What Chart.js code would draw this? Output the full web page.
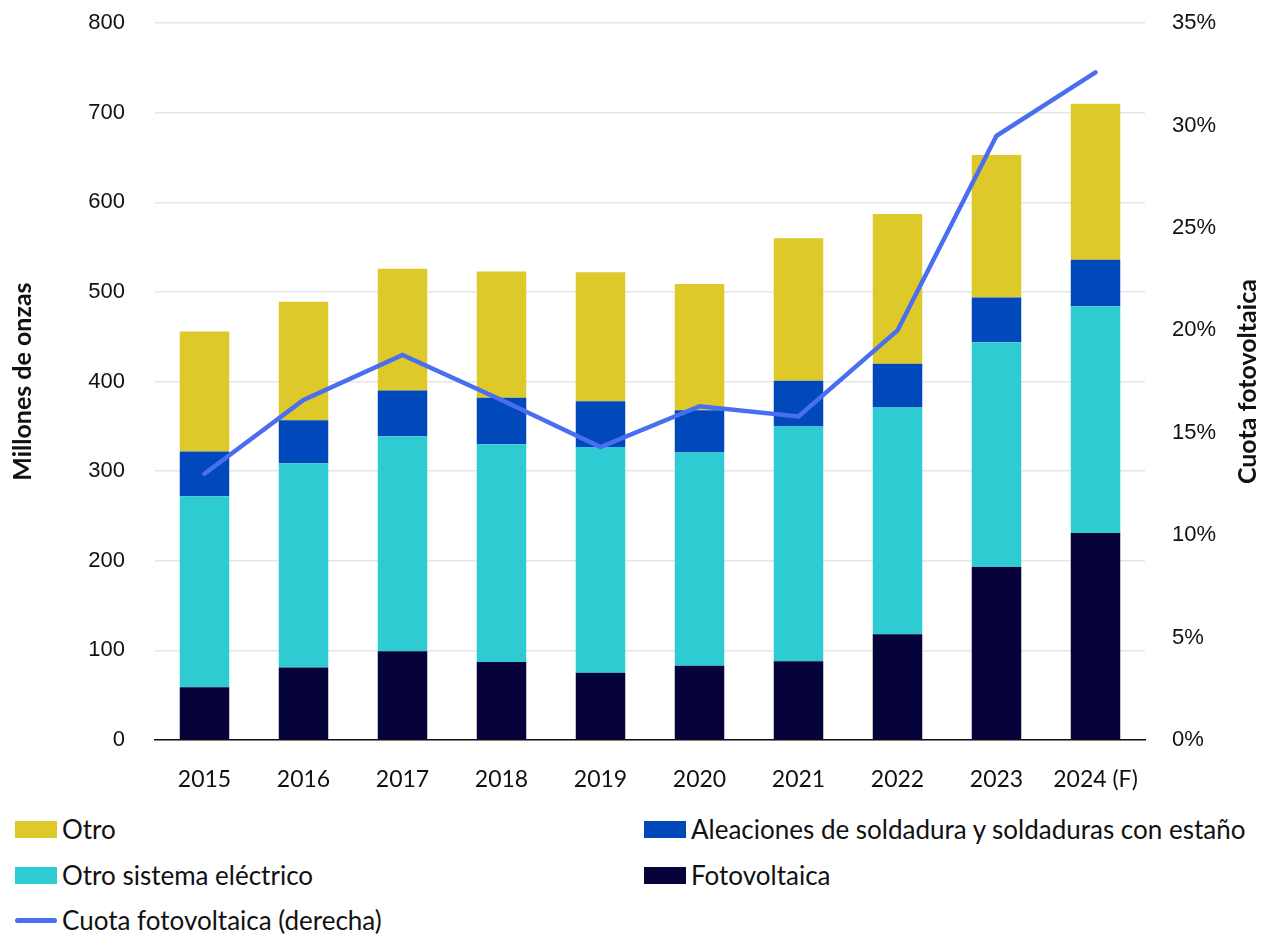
<!DOCTYPE html>
<html>
<head>
<meta charset="utf-8">
<script src="https://cdn.jsdelivr.net/npm/chart.js@4.4.1/dist/chart.umd.min.js"></script>
<style>
  html, body { margin: 0; padding: 0; background: #fff; }
  #wrap { position: relative; width: 1266px; height: 935px; font-family: Lato, sans-serif; overflow: hidden; }
  #box { position: absolute; left: 0; top: -20px; width: 1266px; height: 820px; }
  #legend { position: absolute; left: 0; top: 814px; width: 1266px; }
  .item { position: absolute; display: flex; align-items: center; font-size: 26px; color: #111; white-space: nowrap; height: 30px; }
  .swatch { width: 42px; height: 17px; margin-right: 5px; }
  .swatch.line { height: 5px; border-radius: 3px; }
</style>
</head>
<body>
<div id="wrap">
  <div id="box"><canvas id="chart"></canvas></div>
  <div id="legend"></div>
</div>
<script>
const years = ['2015', '2016', '2017', '2018', '2019', '2020', '2021', '2022', '2023', '2024 (F)'];

// millones de onzas
const fotovoltaica = [59, 81, 99, 87, 75, 83, 88, 118, 193, 231];
const otroElectrico = [213, 228, 240, 243, 252, 238, 262, 253, 251, 253];
const soldadura = [50, 48, 51, 52, 51, 47, 51, 49, 50, 52];
const otro = [134, 132, 136, 141, 144, 141, 159, 167, 159, 174];

// % del total
const cuotaFv = [13.0, 16.6, 18.8, 16.6, 14.3, 16.3, 15.8, 20.0, 29.5, 32.6];

const yTicks = [0, 100, 200, 300, 400, 500, 600, 700, 800];

const colors = {
    otro: '#DEC92B',
    soldadura: '#0148BA',
    electrico: '#2ECCD2',
    foto: '#06033A',
    linea: '#4A6EF0'
};

Chart.defaults.font.family = 'Lato, sans-serif';
Chart.defaults.font.size = 22;
Chart.defaults.color = '#111';

const tickFont = { family: "'Liberation Sans', Arial, sans-serif", size: 22 };
const titleFont = { family: 'Lato, sans-serif', weight: 'bold', size: 25 };

// titulo del eje derecho, girado como el izquierdo
const rightTitle = {
    id: 'rightTitle',
    afterDraw(chart) {
        const { ctx, chartArea } = chart;
        ctx.save();
        ctx.translate(1248, (chartArea.top + chartArea.bottom) / 2);
        ctx.rotate(-Math.PI / 2);
        ctx.font = `bold ${titleFont.size}px ${titleFont.family}`;
        ctx.fillStyle = '#111';
        ctx.textAlign = 'center';
        ctx.textBaseline = 'middle';
        ctx.fillText('Cuota fotovoltaica', 0, 0);
        ctx.restore();
    }
};

const ctx = document.getElementById('chart');

const chart = new Chart(ctx, {
    data: {
        labels: years,
        datasets: [
            { type: 'line', label: 'Cuota fotovoltaica (derecha)', data: cuotaFv, yAxisID: 'y1',
              borderColor: colors.linea, backgroundColor: colors.linea, borderWidth: 4.5,
              borderCapStyle: 'round', pointRadius: 0, tension: 0, order: 0 },
            { type: 'bar', label: 'Fotovoltaica', data: fotovoltaica, backgroundColor: colors.foto, order: 1 },
            { type: 'bar', label: 'Otro sistema eléctrico', data: otroElectrico, backgroundColor: colors.electrico, order: 1 },
            { type: 'bar', label: 'Aleaciones de soldadura y soldaduras con estaño', data: soldadura, backgroundColor: colors.soldadura, order: 1 },
            { type: 'bar', label: 'Otro', data: otro, backgroundColor: colors.otro, order: 1 }
        ]
    },
    options: {
        responsive: true,
        maintainAspectRatio: false,
        animation: false,
        layout: { padding: { top: 3, left: 0, right: 0, bottom: 0 } },
        datasets: { bar: { barPercentage: 0.5, categoryPercentage: 1.0 } },
        plugins: { legend: { display: false }, tooltip: { enabled: false } },
        scales: {
            x: {
                stacked: true,
                grid: { display: false },
                border: { color: '#111', width: 1.5 },
                ticks: { padding: 18, font: { size: 23 } },
                afterFit: s => { s.height = 60; }
            },
            y: {
                stacked: true,
                min: 0, max: 800,
                afterBuildTicks: s => { s.ticks = yTicks.map(v => ({ value: v })); },
                grid: { color: '#e6e6e6', lineWidth: 1.5, drawTicks: false },
                border: { display: false },
                ticks: { padding: 30, font: tickFont },
                title: { display: true, text: 'Millones de onzas', font: titleFont, padding: { top: 8, bottom: 0 } },
                afterFit: s => { s.width = 155; }
            },
            y1: {
                position: 'right',
                min: 0, max: 35,
                grid: { display: false, drawTicks: false },
                border: { display: false },
                ticks: { stepSize: 5, padding: 27, font: tickFont, callback: v => v + '%' },
                afterFit: s => { s.width = 121; }
            }
        }
    },
    plugins: [rightTitle]
});

// leyenda en dos columnas, como en el original
const legendOrder = [
    ['Otro', 15, 0], ['Aleaciones de soldadura y soldaduras con estaño', 644, 0],
    ['Otro sistema eléctrico', 15, 46], ['Fotovoltaica', 644, 46],
    ['Cuota fotovoltaica (derecha)', 15, 91]
];
const legend = document.getElementById('legend');
legendOrder.forEach(([label, x, y]) => {
    const ds = chart.data.datasets.find(d => d.label === label);
    const item = document.createElement('div');
    item.className = 'item';
    item.style.left = x + 'px';
    item.style.top = y + 'px';
    const sw = document.createElement('span');
    sw.className = 'swatch' + (ds.type === 'line' ? ' line' : '');
    sw.style.background = ds.type === 'line' ? ds.borderColor : ds.backgroundColor;
    const txt = document.createElement('span');
    txt.textContent = label;
    item.appendChild(sw);
    item.appendChild(txt);
    legend.appendChild(item);
});
</script>
</body>
</html>
